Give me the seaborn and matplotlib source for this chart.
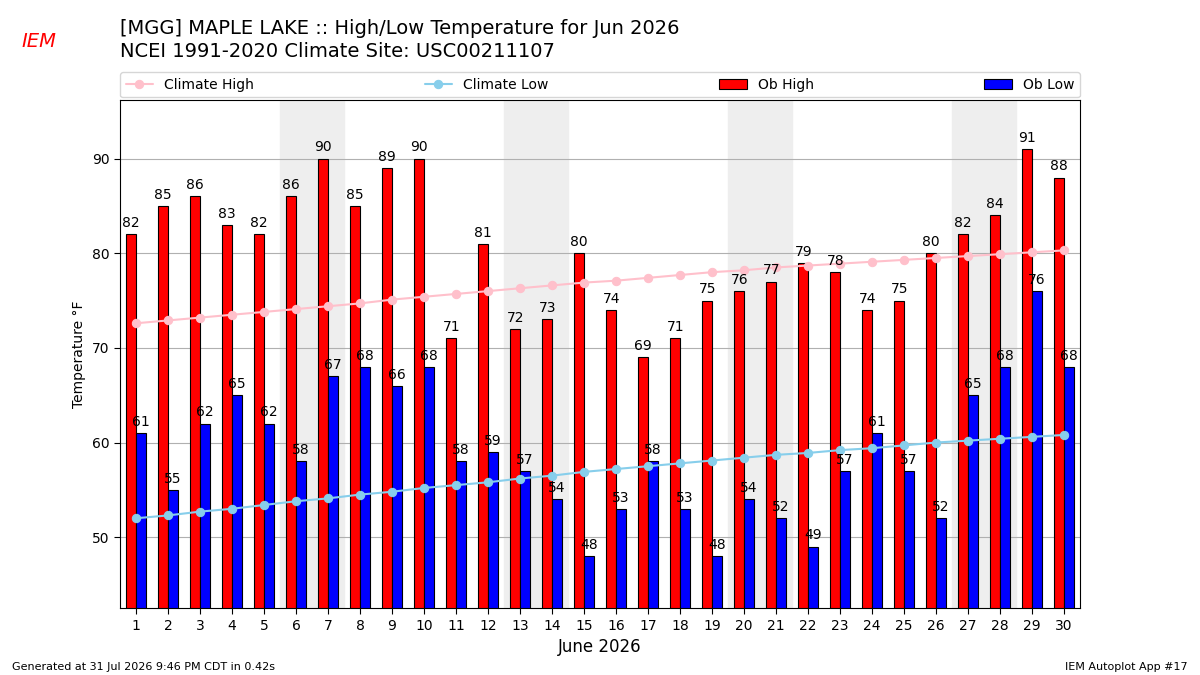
import pandas as pd
import matplotlib.pyplot as plt
import seaborn as sns

DAYS = list(range(1, 31))
OB_HIGH = [82, 85, 86, 83, 82, 86, 90, 85, 89, 90, 71, 81, 72, 73, 80,
           74, 69, 71, 75, 76, 77, 79, 78, 74, 75, 80, 82, 84, 91, 88]
OB_LOW = [61, 55, 62, 65, 62, 58, 67, 68, 66, 68, 58, 59, 57, 54, 48,
          53, 58, 53, 48, 54, 52, 49, 57, 61, 57, 52, 65, 68, 76, 68]
CLIMATE_HIGH = [72.6, 72.9, 73.2, 73.5, 73.8, 74.1, 74.4, 74.7, 75.1, 75.4,
                75.7, 76.0, 76.3, 76.6, 76.9, 77.1, 77.4, 77.7, 78.0, 78.2,
                78.5, 78.7, 78.9, 79.1, 79.3, 79.5, 79.7, 79.9, 80.1, 80.3]
CLIMATE_LOW = [52.0, 52.3, 52.7, 53.0, 53.4, 53.8, 54.1, 54.5, 54.8, 55.2,
               55.5, 55.8, 56.2, 56.5, 56.9, 57.2, 57.5, 57.8, 58.1, 58.4,
               58.7, 58.9, 59.2, 59.4, 59.7, 60.0, 60.2, 60.4, 60.6, 60.8]
WEEKENDS = [(6, 7), (13, 14), (20, 21), (27, 28)]

sns.set_style("white")
plt.rcParams["font.family"] = ["DejaVu Sans"]
for k in ["text.color", "axes.labelcolor", "xtick.color", "ytick.color"]:
    plt.rcParams[k] = "black"

fig = plt.figure(figsize=(12, 6.75), dpi=100)
ax = fig.add_axes([0.1, 0.099, 0.8, 0.753])

for a, b in WEEKENDS:
    ax.axvspan(a - 1.5, b - 0.5, color="#eeeeee", zorder=0)

bars = pd.DataFrame({
    "day": [str(d) for d in DAYS] * 2,
    "temp": OB_HIGH + OB_LOW,
    "kind": ["Ob High"] * 30 + ["Ob Low"] * 30,
})
sns.barplot(data=bars, x="day", y="temp", hue="kind",
            palette={"Ob High": "red", "Ob Low": "blue"},
            edgecolor="black", linewidth=0.8, width=0.6, saturation=1,
            ax=ax, zorder=2)
for c in ax.containers:
    for t in ax.bar_label(c, fmt="%d", padding=3, fontsize=10):
        t.set_zorder(5)

pos = [d - 1 for d in DAYS]
sns.lineplot(x=pos, y=CLIMATE_HIGH, color="pink", marker="o", markersize=6,
             markeredgecolor="pink", lw=1.5, label="Climate High", ax=ax, zorder=3)
sns.lineplot(x=pos, y=CLIMATE_LOW, color="skyblue", marker="o", markersize=6,
             markeredgecolor="skyblue", lw=1.5, label="Climate Low", ax=ax, zorder=3)

ax.set_ylim(42.5, 96.2)
ax.set_xlim(-0.5, 29.5)
ax.set_yticks([50, 60, 70, 80, 90])
ax.yaxis.grid(True, color="#b0b0b0", lw=0.8)
ax.set_axisbelow(True)
for s in ax.spines.values():
    s.set_color("black")
ax.tick_params(axis="both", length=4, color="black", left=True, bottom=True)
ax.set_xlabel("June 2026", fontsize=12)
ax.set_ylabel("Temperature °F", fontsize=10)

h, l = ax.get_legend_handles_labels()
order = [l.index(n) for n in ["Climate High", "Climate Low", "Ob High", "Ob Low"]]
ax.legend([h[i] for i in order], [l[i] for i in order], loc="lower left",
          bbox_to_anchor=(0, 1.005, 1, 0.05), ncol=4, mode="expand",
          fontsize=10, borderaxespad=0, frameon=True)

fig.text(0.1, 0.95, "[MGG] MAPLE LAKE :: High/Low Temperature for Jun 2026",
         fontsize=14)
fig.text(0.1, 0.915, "NCEI 1991-2020 Climate Site: USC00211107", fontsize=14)
fig.text(0.018, 0.93, "IEM", fontsize=14, color="red", style="italic")
fig.text(0.01, 0.008, "Generated at 31 Jul 2026 9:46 PM CDT in 0.42s", fontsize=8)
fig.text(0.99, 0.008, "IEM Autoplot App #17", fontsize=8, ha="right")

fig.savefig("out.png")
